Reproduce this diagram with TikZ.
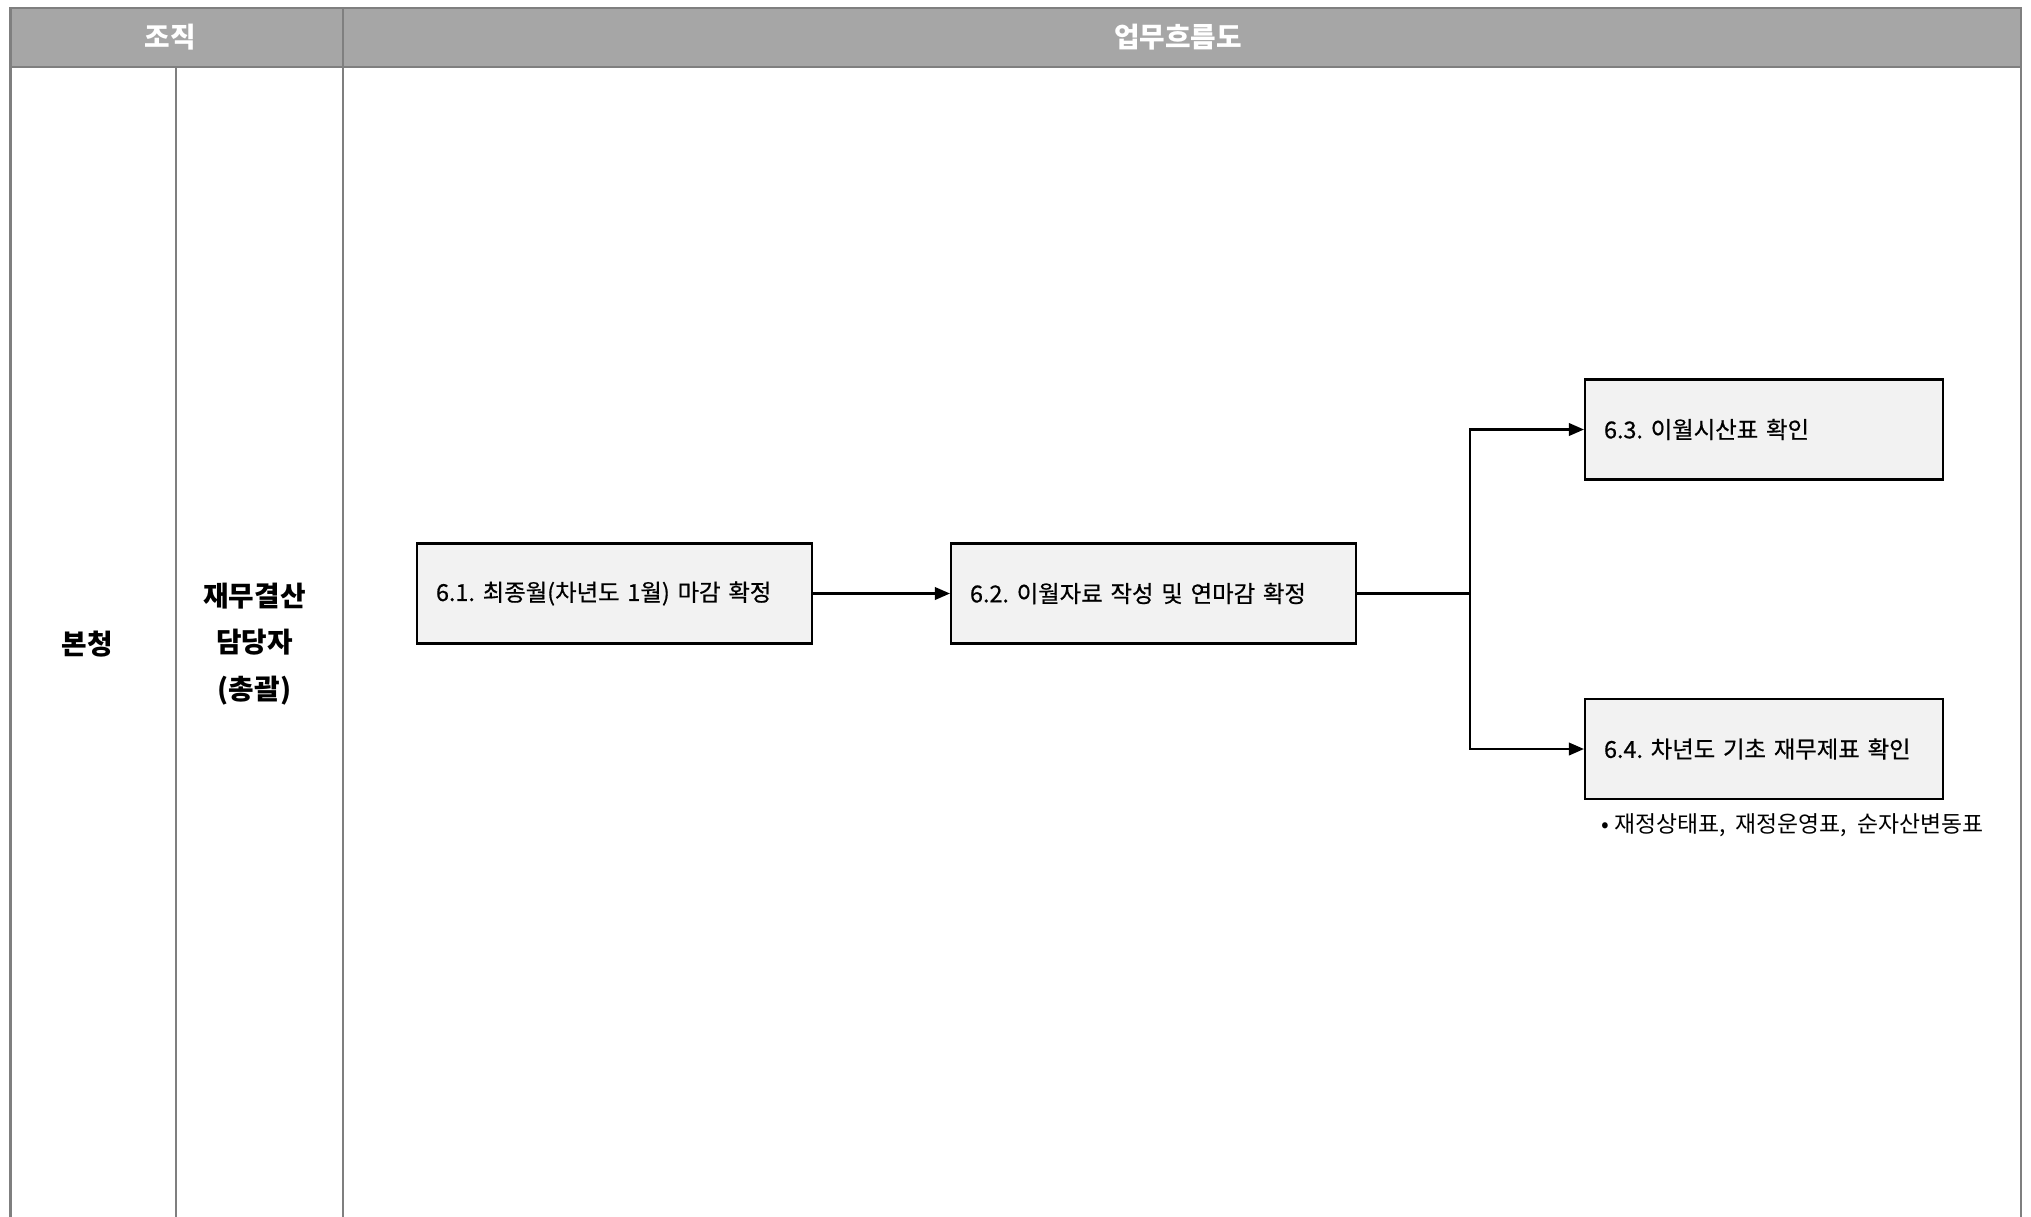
\documentclass[tikz,border=0pt]{standalone}
\usepackage{fontspec}
\setmainfont{Noto Sans CJK KR}
\newfontfamily\taskfont[FakeBold=0.6]{Noto Sans CJK KR}
\usetikzlibrary{arrows.meta}
\definecolor{headfill}{HTML}{A6A6A6}
\definecolor{gridline}{HTML}{7F7F7F}
\definecolor{boxfill}{HTML}{F2F2F2}
\tikzset{
	task/.style={draw=black, line width=1.2pt, fill=boxfill, minimum height=2cm, align=left, inner xsep=0.38cm, font=\fontsize{13.3}{16}\selectfont\taskfont\frenchspacing},
	flow/.style={line width=1.2pt, -{Triangle[length=0.3cm,width=0.25cm]}},
	grid/.style={draw=gridline, line width=1.4pt},
	headtext/.style={text=white, font=\fontsize{15.8}{18}\selectfont\bfseries},
	orgtext/.style={font=\fontsize{15.8}{26.5}\selectfont\bfseries}
}

\begin{document}
\begin{tikzpicture}
	\useasboundingbox [fill=white] (0,0) rectangle (40.62,-24.32);
	\fill [headfill] (0.21,-0.16) rectangle (40.42,-1.34);
	\draw [grid] (0.21,-0.16) rectangle (40.42,-1.34);
	\draw [grid] (0.21,-1.34) -- (0.21,-24.4);
	\draw [grid] (3.52,-1.34) -- (3.52,-24.4);
	\draw [grid] (6.86,-0.16) -- (6.86,-24.4);
	\draw [grid] (40.42,-1.34) -- (40.42,-24.4);
	\node [headtext] (org) at (3.40,-0.75) {조직};
	\node [headtext] (flowhead) at (23.56,-0.75) {업무흐름도};
	\node [orgtext] (hq) at (1.75,-12.88) {본청};
	\node [orgtext, align=center] (staff) at (5.09,-12.88) {재무결산\\담당자\\(총괄)};
	\node [task, minimum width=7.9cm, text width=7.14cm] (b61) at (12.29,-11.87) {6.1. 최종월(차년도 1월) 마감 확정};
	\node [task, minimum width=8.1cm, text width=7.34cm] (b62) at (23.07,-11.87) {6.2. 이월자료 작성 및 연마감 확정};
	\node [task, minimum width=7.16cm, text width=6.4cm] (b63) at (35.28,-8.59) {6.3. 이월시산표 확인};
	\node [task, minimum width=7.16cm, text width=6.4cm] (b64) at (35.28,-14.98) {6.4. 차년도 기초 재무제표 확인};
	\node [anchor=west, font=\fontsize{13}{15}\selectfont] (fs) at (31.9,-16.5) {• 재정상태표,\ \ 재정운영표,\ \ 순자산변동표};
	\coordinate (split) at (29.4,-11.87);
	\draw [flow] (b61) -- (b62);
	\draw [line width=1.2pt] (b62) -- (split);
	\draw [flow] (split) |- (b63);
	\draw [flow] (split) |- (b64);
\end{tikzpicture}
\end{document}
